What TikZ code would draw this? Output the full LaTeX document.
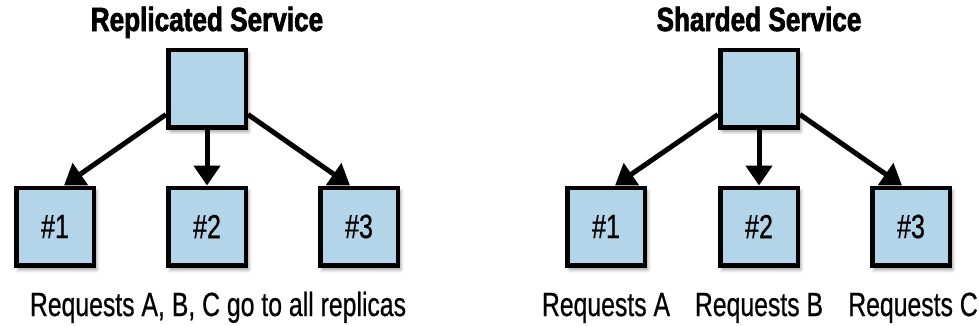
\documentclass[tikz,border=0pt]{standalone}
\usepackage{fontspec}
\usetikzlibrary{arrows.meta,shadows.blur}
\newfontfamily\titlefont[FakeStretch=0.78,FakeBold=2]{Liberation Sans}
\newfontfamily\lblfont[FakeStretch=0.74,FakeBold=0.6]{Liberation Sans}
\newfontfamily\boxfont[FakeStretch=0.75,FakeBold=0.6]{Liberation Sans}
\definecolor{boxblue}{RGB}{179,212,233}
\tikzset{
  svc/.style={draw=black, line width=4.5pt, fill=boxblue, minimum size=77.5pt, inner sep=0pt,
    blur shadow={shadow xshift=2.5pt, shadow yshift=-4pt, shadow blur radius=4pt, shadow opacity=45},
    font=\boxfont\fontsize{33.5}{38}\selectfont},
  worker/.style={svc},
  heading/.style={anchor=base, font=\titlefont\bfseries\fontsize{33.5}{38}\selectfont, inner sep=0pt},
  caption/.style={anchor=base, font=\lblfont\fontsize{33.5}{38}\selectfont, inner sep=0pt},
  link/.style={line width=5pt, -{Triangle[length=20pt,width=26pt]}}
}
\begin{document}
\begin{tikzpicture}[x=1pt,y=-1pt]
\useasboundingbox (0,0) rectangle (979,325);
% Replicated
\node[heading] (t1) at (207,31) {Replicated Service};
\node[svc] (r0) at (207,88.5) {};
\node[worker] (r1) at (55,226.5) {\#1};
\node[worker] (r2) at (207,226.5) {\#2};
\node[worker] (r3) at (359,226.5) {\#3};
\node[caption] (c1) at (218,316) {Requests A, B, C go to all replicas};
\draw[link] ([yshift=-26pt]r0.west) -- ([xshift=9pt]r1.north);
\draw[link] (r0.south) -- (r2.north);
\draw[link] ([yshift=-26pt]r0.east) -- ([xshift=-9pt]r3.north);
% Sharded
\node[heading] (t2) at (759,31) {Sharded Service};
\node[svc] (s0) at (759,88.5) {};
\node[worker] (s1) at (606,226.5) {\#1};
\node[worker] (s2) at (759,226.5) {\#2};
\node[worker] (s3) at (911,226.5) {\#3};
\node[caption] (ca) at (606,316) {Requests A};
\node[caption] (cb) at (759,316) {Requests B};
\node[caption] (cc) at (913,316) {Requests C};
\draw[link] ([yshift=-26pt]s0.west) -- ([xshift=9pt]s1.north);
\draw[link] (s0.south) -- (s2.north);
\draw[link] ([yshift=-26pt]s0.east) -- ([xshift=-9pt]s3.north);
\end{tikzpicture}
\end{document}
